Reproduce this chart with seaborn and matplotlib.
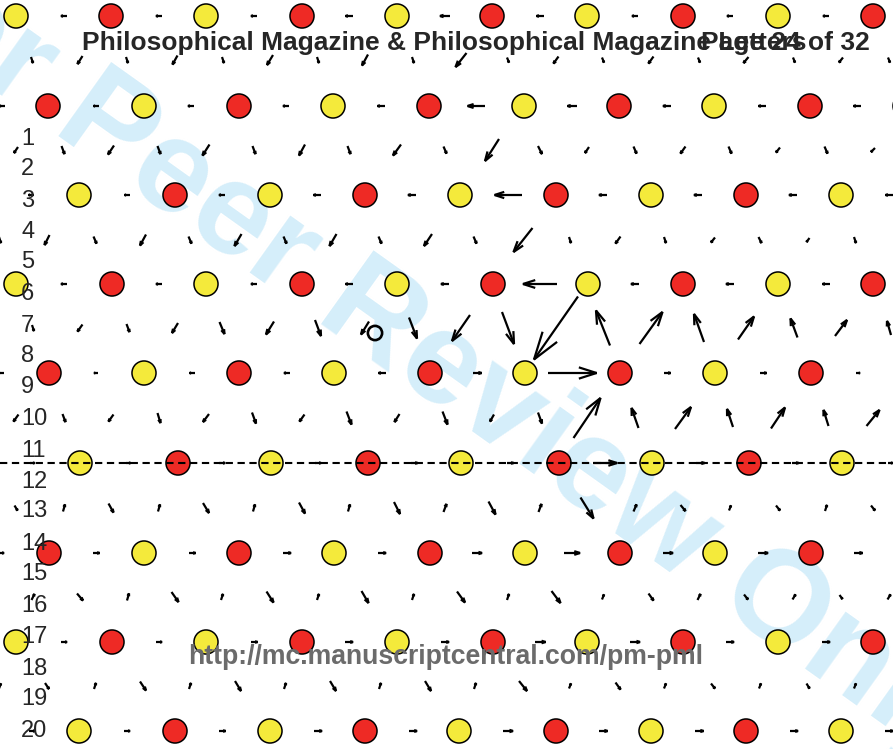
import matplotlib
matplotlib.use("Agg")
import matplotlib.pyplot as plt
from matplotlib.collections import LineCollection
import numpy as np
import pandas as pd
import seaborn as sns

sns.set_style("white")
plt.rcParams["font.family"] = ["Liberation Sans", "DejaVu Sans"]

# ---- atoms (picture units, y pointing down) ----
row_y = [16, 106, 195, 284, 373, 463, 553, 642, 731]
row_x = [
    [16, 111, 206, 302, 397, 492, 587, 683, 778, 873],
    [48, 144, 239, 333, 429, 524, 619, 714, 810, 905],
    [79, 175, 270, 365, 460, 556, 651, 746, 841],
    [16, 112, 206, 302, 397, 493, 588, 683, 778, 873],
    [49, 144, 239, 334, 430, 525, 620, 715, 811, 906],
    [80, 178, 271, 368, 461, 559, 652, 749, 842],
    [49, 144, 239, 334, 430, 525, 620, 715, 811, 906],
    [16, 112, 206, 302, 397, 493, 587, 683, 778, 873],
    [79, 175, 270, 365, 459, 556, 651, 746, 841],
]
row_species = ["YRYRYRYRYR", "RYRYRYRYRY", "YRYRYRYRY", "YRYRYRYRYR", "RYRYRYRYRY",
               "YRYRYRYRY", "RYRYRYRYRY", "YRYRYRYRYR", "YRYRYRYRY"]

# ---- displacement arrows lying on the atom rows (horizontal) ----
inrow_x = [
    [64, 159, 254, 349, 445, 540, 635, 730, 826],
    [2, 96, 191, 286, 381, 476, 572, 667, 762, 857],
    [31, 127, 222, 317, 412, 508, 603, 698, 793, 889],
    [64, 159, 254, 349, 445, 540, 635, 730, 826],
    [1, 96, 192, 287, 382, 477, 572, 667, 763, 858],
    [32, 128, 222, 318, 414, 510, 605, 700, 795, 890],
    [1, 96, 192, 287, 382, 477, 572, 668, 763, 858],
    [64, 159, 254, 349, 445, 540, 635, 730, 826],
    [32, 127, 222, 318, 413, 508, 603, 699, 794, 889],
]
inrow_u = [
    [-6, -6, -6, -7, -10, -7, -6, -6, -6],
    [-5, -5, -6, -6, -7, -17, -9, -8, -7, -7],
    [-5, -5, -6, -7, -8, -27, -8, -8, -8, -7],
    [-6, -6, -6, -7, -8, -34, -8, -8, -7],
    [-5, -4, -5, -6, -7, 9, 49, 7, 7, 4],
    [5, 5, 6, 6, 7, 7, 24, 9, 7, 5],
    [6, 7, 7, 8, 8, 10, 16, 10, 10, 9],
    [6, 6, 7, 8, 8, 11, 10, 8, 8],
    [6, 6, 7, 8, 8, 10, 9, 9, 8, 8],
]

# ---- displacement arrows between the atom rows ----
between_y = [60, 150, 240, 328, 418, 508, 597, 686]
between_x = [
    [32, 80, 127, 175, 223, 270, 318, 365, 413, 461, 508, 556, 603, 651, 699, 746, 794, 841, 889],
    [16, 63, 111, 159, 206, 254, 302, 349, 397, 445, 492, 540, 587, 635, 683, 730, 778, 826, 873],
    [0, 47, 95, 143, 190, 238, 285, 333, 380, 428, 475, 523, 570, 618, 665, 713, 760, 808, 855],
    [33, 80, 128, 175, 222, 270, 318, 365, 413, 461, 508, 556, 603, 651, 699, 746, 794, 841, 889],
    [16, 64, 111, 159, 206, 254, 302, 349, 397, 445, 492, 540, 587, 635, 683, 730, 778, 826, 873],
    [16, 64, 111, 159, 206, 254, 302, 349, 397, 445, 492, 540, 587, 635, 683, 730, 778, 826, 873],
    [33, 80, 128, 175, 222, 270, 318, 365, 413, 461, 508, 556, 603, 651, 699, 746, 794, 841, 889],
    [0, 47, 95, 143, 190, 238, 285, 333, 380, 428, 475, 523, 570, 618, 665, 713, 760, 808, 855],
]
between_u = [
    [2, -5, 2, -5, 2, -6, 2, -6, 2, -11, 2, -5, 2, -5, 2, -5, 2, -4, 2],
    [-4, 3, -6, 3, -7, 3, -6, 3, -8, 3, -14, 4, -4, 3, -5, 3, -4, 3, -4],
    [2, -5, 3, -6, 3, -7, 3, -7, 3, -8, 3, -19, 2, -5, 2, -4, 3, -3, 2],
    [2, -5, 3, -6, 5, -8, 6, -8, 8, -18, 12, -44, -14, 23, -10, 16, -7, 12, -4],
    [-5, 3, -5, 3, -6, 4, -5, 5, -5, 5, -4, 4, 27, -7, 16, -6, 14, -5, 13],
    [3, 2, 5, 2, 6, 2, 6, 2, 6, 3, 7, 3, 13, 3, 5, 2, 4, 2, 4],
    [3, 6, 2, 7, 2, 7, 2, 7, 2, 8, 2, 9, 2, 5, 3, 4, 3, 3, 3],
    [2, 4, 2, 6, 2, 6, 2, 6, 2, 6, 2, 8, 2, 5, 2, 4, 2, 3, 2],
]
between_v = [
    [6, 8, 6, 9, 6, 10, 6, 11, 6, 14, 5, 7, 5, 7, 5, 6, 5, 5, 5],
    [6, 8, 9, 8, 11, 8, 11, 8, 11, 7, 22, 8, 6, 7, 7, 7, 5, 7, 4],
    [6, 10, 7, 11, 7, 12, 7, 12, 7, 12, 7, 24, 6, 7, 6, 5, 6, 4, 6],
    [6, 7, 8, 10, 12, 13, 16, 13, 21, 26, 32, 63, -35, -32, -28, -23, -19, -16, -14],
    [7, 8, 7, 10, 8, 11, 7, 13, 8, 13, 7, 11, -40, -20, -22, -18, -21, -16, -16],
    [5, -7, 9, -7, 10, -7, 11, -7, 12, -8, 13, -8, 21, -7, 6, -5, 5, -6, 5],
    [-6, 7, -7, 10, -6, 11, -6, 12, -6, 11, -6, 12, -5, 7, -6, 5, -5, 4, -5],
    [-5, 6, -6, 9, -6, 10, -6, 10, -6, 10, -6, 10, -5, 7, -5, 5, -5, 5, -5],
]

core_x = [375]
core_y = [333]
twin_y = 463

line_numbers = list(range(1, 22))
line_number_y = [145, 175, 207, 238, 268, 300, 332, 362, 393, 425, 457, 488,
                 517, 550, 580, 612, 643, 675, 705, 737, 768]

header_text = "Philosophical Magazine & Philosophical Magazine Letters"
page_text = "Page 24 of 32"
footer_text = "http://mc.manuscriptcentral.com/pm-pml"
watermark_text = "For Peer Review Only"

palette = {"R": "#ee2a25", "Y": "#f4ea3b"}

# tables
atoms = pd.DataFrame({
    "x": [x for xs in row_x for x in xs],
    "y": [y for y, xs in zip(row_y, row_x) for _ in xs],
    "species": [s for sp in row_species for s in sp],
})

arrows = pd.concat([
    pd.DataFrame({"x": xs, "y": y, "u": us, "v": 0})
    for y, xs, us in zip(row_y, inrow_x, inrow_u)
] + [
    pd.DataFrame({"x": xs, "y": y, "u": us, "v": vs})
    for y, xs, us, vs in zip(between_y, between_x, between_u, between_v)
], ignore_index=True)


def arrow_lines(df, alpha=0.36, beta=0.32):
    # matlab-like quiver: centred shaft plus an open head
    segs = []
    for x, y, u, v in df[["x", "y", "u", "v"]].itertuples(index=False):
        x1, y1 = x + u / 2, y + v / 2
        segs.append([(x - u / 2, y - v / 2), (x1, y1)])
        segs.append([(x1 - alpha * (u + beta * v), y1 - alpha * (v - beta * u)),
                     (x1, y1),
                     (x1 - alpha * (u - beta * v), y1 - alpha * (v + beta * u))])
    return segs


fig = plt.figure(figsize=(8.93, 7.49), dpi=100)
ax = fig.add_axes([0, 0, 1, 1])

# watermark behind everything
ax.text(420, 352, watermark_text, fontsize=95, fontweight="bold", color="#d5eefa",
        rotation=-35.5, rotation_mode="anchor", ha="center", va="center", zorder=0)

ax.add_collection(LineCollection(arrow_lines(arrows), colors="black", linewidths=1.6,
                                 capstyle="butt", joinstyle="miter", zorder=2))

sns.scatterplot(data=atoms, x="x", y="y", hue="species", palette=palette, s=300,
                edgecolor="black", linewidth=1.1, legend=False, zorder=3, ax=ax)
sns.scatterplot(x=core_x, y=core_y, s=105, facecolor="none", edgecolor="black",
                linewidth=1.9, zorder=3, ax=ax)

ax.axhline(twin_y, color="black", lw=1.5, dashes=(3.5, 2.2), zorder=4)

ax.text(82, 50, header_text, fontsize=19, fontweight="bold", ha="left", va="baseline", zorder=5)
ax.text(870, 50, page_text, fontsize=19, fontweight="bold", ha="right", va="baseline", zorder=5)
for n, y in zip(line_numbers, line_number_y):
    ax.text(21, y, str(n), fontsize=17, ha="left", va="baseline", zorder=5)
ax.text(188, 664, footer_text, fontsize=19.2, fontweight="bold", color="#6b6b6b",
        ha="left", va="baseline", zorder=5)

ax.set_xlim(0, 893)
ax.set_ylim(749, 0)
ax.axis("off")

fig.savefig("out.png", dpi=100)
